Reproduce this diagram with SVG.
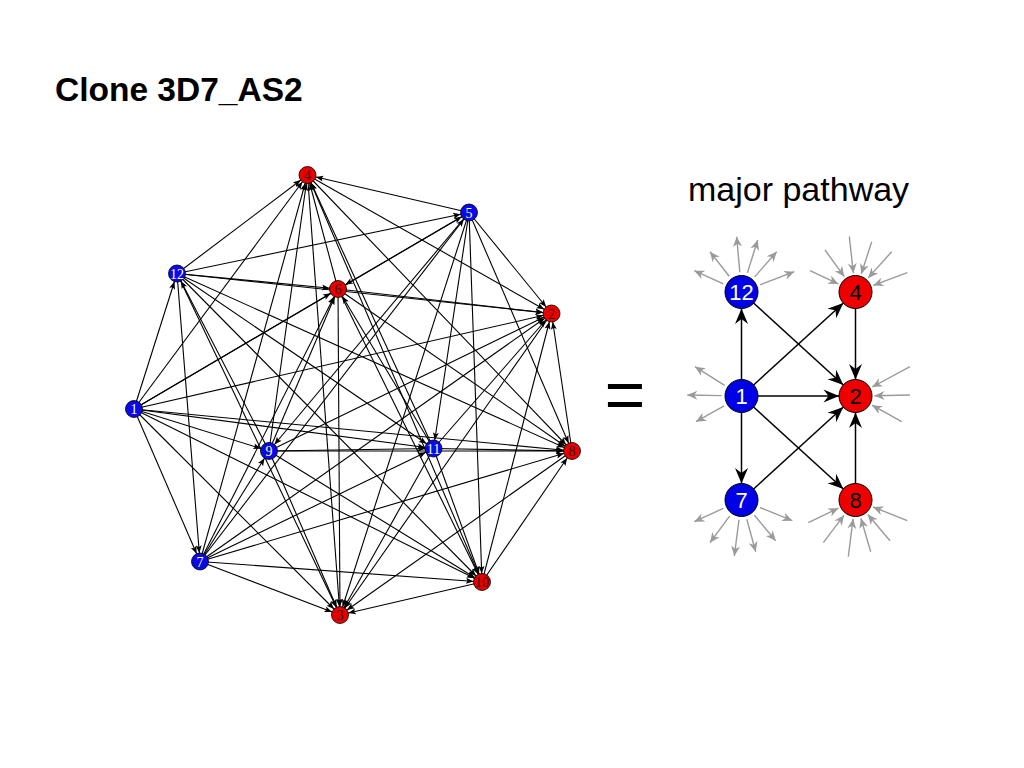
<svg xmlns="http://www.w3.org/2000/svg" width="1024" height="768" viewBox="0 0 1024 768">
<style>
.e{stroke:#000;stroke-width:1.1;fill:none;marker-end:url(#arL)}
.b{stroke:#000;stroke-width:1.5;fill:none;marker-end:url(#arR)}
.g{stroke:#9a9a9a;stroke-width:1.4;fill:none;marker-end:url(#arG)}
.nb{fill:#0a0ae6;stroke:#000;stroke-width:0.8}
.nr{fill:#e60000;stroke:#000;stroke-width:0.8}
.lw{font-family:"Liberation Serif",serif;font-size:14px;fill:#fff;text-anchor:middle}
.lk{font-family:"Liberation Serif",serif;font-size:14px;fill:#3a0000;text-anchor:middle}
.Rb{fill:#0000e6;stroke:#000;stroke-width:1}
.Rr{fill:#ee0000;stroke:#000;stroke-width:1}
.Rw{font-family:"Liberation Sans",Arial,sans-serif;font-size:22px;fill:#fff;text-anchor:middle}
.Rk{font-family:"Liberation Sans",Arial,sans-serif;font-size:22px;fill:#000;text-anchor:middle}
</style>
<defs>
<marker id="arL" markerUnits="userSpaceOnUse" markerWidth="20" markerHeight="20" refX="0" refY="0" orient="auto" overflow="visible">
<path d="M-16,-3 L-8.5,0 L-16,3 L-14.5,0 z" fill="#000"/>
</marker>
<marker id="arR" markerUnits="userSpaceOnUse" markerWidth="40" markerHeight="40" refX="0" refY="0" orient="auto" overflow="visible">
<path d="M-32,-6.5 L-16.5,0 L-32,6.5 L-27,0 z" fill="#000"/>
</marker>
<marker id="arG" markerUnits="userSpaceOnUse" markerWidth="20" markerHeight="20" refX="0" refY="0" orient="auto" overflow="visible">
<path d="M-10,-4.5 L0,0 L-10,4.5 L-7,0 z" fill="#9a9a9a"/>
</marker>
</defs>
<rect width="1024" height="768" fill="#fff"/>
<text x="55" y="101" font-family="Liberation Sans,Arial,sans-serif" font-weight="bold" font-size="33.5" fill="#000">Clone 3D7_AS2</text>
<text x="688" y="201" font-family="Liberation Sans,Arial,sans-serif" font-size="34" fill="#000">major pathway</text>
<text x="625" y="419" font-family="Liberation Sans,Arial,sans-serif" font-size="70" fill="#000" text-anchor="middle">=</text>

<g id="connectors">
<line class="e" x1="134" y1="409" x2="177" y2="273.5"/>
<line class="e" x1="134" y1="409" x2="200" y2="561.5"/>
<line class="e" x1="134" y1="409" x2="469" y2="212.5"/>
<line class="e" x1="134" y1="409" x2="269" y2="451"/>
<line class="e" x1="134" y1="409" x2="433.5" y2="448.5"/>
<line class="e" x1="134" y1="409" x2="338" y2="289"/>
<line class="e" x1="134" y1="409" x2="482" y2="582"/>
<line class="e" x1="134" y1="409" x2="307.5" y2="175"/>
<line class="e" x1="134" y1="409" x2="572" y2="451"/>
<line class="e" x1="134" y1="409" x2="551.5" y2="313.5"/>
<line class="e" x1="134" y1="409" x2="340" y2="615"/>
<line class="e" x1="177" y1="273.5" x2="200" y2="561.5"/>
<line class="e" x1="177" y1="273.5" x2="469" y2="212.5"/>
<line class="e" x1="177" y1="273.5" x2="433.5" y2="448.5"/>
<line class="e" x1="177" y1="273.5" x2="338" y2="289"/>
<line class="e" x1="177" y1="273.5" x2="482" y2="582"/>
<line class="e" x1="177" y1="273.5" x2="307.5" y2="175"/>
<line class="e" x1="177" y1="273.5" x2="572" y2="451"/>
<line class="e" x1="177" y1="273.5" x2="551.5" y2="313.5"/>
<line class="e" x1="177" y1="273.5" x2="340" y2="615"/>
<line class="e" x1="200" y1="561.5" x2="469" y2="212.5"/>
<line class="e" x1="200" y1="561.5" x2="269" y2="451"/>
<line class="e" x1="200" y1="561.5" x2="433.5" y2="448.5"/>
<line class="e" x1="200" y1="561.5" x2="338" y2="289"/>
<line class="e" x1="200" y1="561.5" x2="482" y2="582"/>
<line class="e" x1="200" y1="561.5" x2="307.5" y2="175"/>
<line class="e" x1="200" y1="561.5" x2="572" y2="451"/>
<line class="e" x1="200" y1="561.5" x2="551.5" y2="313.5"/>
<line class="e" x1="200" y1="561.5" x2="340" y2="615"/>
<line class="e" x1="469" y1="212.5" x2="269" y2="451"/>
<line class="e" x1="469" y1="212.5" x2="433.5" y2="448.5"/>
<line class="e" x1="469" y1="212.5" x2="338" y2="289"/>
<line class="e" x1="469" y1="212.5" x2="482" y2="582"/>
<line class="e" x1="469" y1="212.5" x2="307.5" y2="175"/>
<line class="e" x1="469" y1="212.5" x2="572" y2="451"/>
<line class="e" x1="469" y1="212.5" x2="551.5" y2="313.5"/>
<line class="e" x1="469" y1="212.5" x2="340" y2="615"/>
<line class="e" x1="269" y1="451" x2="177" y2="273.5"/>
<line class="e" x1="269" y1="451" x2="433.5" y2="448.5"/>
<line class="e" x1="269" y1="451" x2="338" y2="289"/>
<line class="e" x1="269" y1="451" x2="482" y2="582"/>
<line class="e" x1="269" y1="451" x2="307.5" y2="175"/>
<line class="e" x1="269" y1="451" x2="572" y2="451"/>
<line class="e" x1="269" y1="451" x2="551.5" y2="313.5"/>
<line class="e" x1="269" y1="451" x2="340" y2="615"/>
<line class="e" x1="433.5" y1="448.5" x2="338" y2="289"/>
<line class="e" x1="433.5" y1="448.5" x2="482" y2="582"/>
<line class="e" x1="433.5" y1="448.5" x2="307.5" y2="175"/>
<line class="e" x1="433.5" y1="448.5" x2="572" y2="451"/>
<line class="e" x1="433.5" y1="448.5" x2="551.5" y2="313.5"/>
<line class="e" x1="433.5" y1="448.5" x2="340" y2="615"/>
<line class="e" x1="338" y1="289" x2="482" y2="582"/>
<line class="e" x1="338" y1="289" x2="307.5" y2="175"/>
<line class="e" x1="338" y1="289" x2="572" y2="451"/>
<line class="e" x1="338" y1="289" x2="551.5" y2="313.5"/>
<line class="e" x1="338" y1="289" x2="340" y2="615"/>
<line class="e" x1="482" y1="582" x2="307.5" y2="175"/>
<line class="e" x1="482" y1="582" x2="572" y2="451"/>
<line class="e" x1="482" y1="582" x2="551.5" y2="313.5"/>
<line class="e" x1="482" y1="582" x2="340" y2="615"/>
<line class="e" x1="307.5" y1="175" x2="572" y2="451"/>
<line class="e" x1="307.5" y1="175" x2="551.5" y2="313.5"/>
<line class="e" x1="307.5" y1="175" x2="340" y2="615"/>
<line class="e" x1="572" y1="451" x2="551.5" y2="313.5"/>
<line class="e" x1="572" y1="451" x2="340" y2="615"/>
<line class="e" x1="551.5" y1="313.5" x2="340" y2="615"/>

<line class="b" x1="741.5" y1="396" x2="741.5" y2="292"/>
<line class="b" x1="741.5" y1="396" x2="855.5" y2="292"/>
<line class="b" x1="741.5" y1="396" x2="855.5" y2="396"/>
<line class="b" x1="741.5" y1="396" x2="855.5" y2="500"/>
<line class="b" x1="741.5" y1="396" x2="741.5" y2="500"/>
<line class="b" x1="741.5" y1="292" x2="855.5" y2="396"/>
<line class="b" x1="741.5" y1="500" x2="855.5" y2="396"/>
<line class="b" x1="855.5" y1="292" x2="855.5" y2="396"/>
<line class="b" x1="855.5" y1="500" x2="855.5" y2="396"/>

<line class="g" x1="723.3" y1="283.8" x2="694.3" y2="270.7"/>
<line class="g" x1="729.2" y1="276.3" x2="710" y2="251.7"/>
<line class="g" x1="739.8" y1="272.1" x2="736.7" y2="236.7"/>
<line class="g" x1="747.4" y1="272.9" x2="757.7" y2="240"/>
<line class="g" x1="754.7" y1="276.9" x2="776.7" y2="251.7"/>
<line class="g" x1="760.2" y1="284.8" x2="794.3" y2="271.7"/>

<line class="g" x1="810" y1="270.7" x2="838.3" y2="283.9"/>
<line class="g" x1="825" y1="250" x2="844.3" y2="276.6"/>
<line class="g" x1="849.3" y1="236.7" x2="853.4" y2="273.1"/>
<line class="g" x1="871.7" y1="241.7" x2="861.3" y2="273.9"/>
<line class="g" x1="891.7" y1="251.7" x2="868.2" y2="277.9"/>
<line class="g" x1="907.3" y1="272.7" x2="873.3" y2="285.4"/>

<line class="g" x1="724.6" y1="385.3" x2="695" y2="366.7"/>
<line class="g" x1="721.5" y1="395.6" x2="687.3" y2="395"/>
<line class="g" x1="724.1" y1="405.8" x2="696" y2="421.7"/>

<line class="g" x1="910" y1="366.7" x2="872.2" y2="387"/>
<line class="g" x1="910" y1="395" x2="874.5" y2="395.7"/>
<line class="g" x1="901.7" y1="421.7" x2="872.1" y2="405.2"/>

<line class="g" x1="723.3" y1="508.4" x2="694.3" y2="521.7"/>
<line class="g" x1="729.6" y1="516.1" x2="710" y2="542.7"/>
<line class="g" x1="739" y1="519.8" x2="734.3" y2="556"/>
<line class="g" x1="746.8" y1="519.3" x2="755.7" y2="551.7"/>
<line class="g" x1="754.4" y1="515.3" x2="775.7" y2="540.7"/>
<line class="g" x1="760" y1="507.5" x2="792.3" y2="520.7"/>

<line class="g" x1="808.3" y1="522.7" x2="838.4" y2="508.2"/>
<line class="g" x1="823.3" y1="542.7" x2="844.1" y2="515.2"/>
<line class="g" x1="848.3" y1="556.7" x2="853.1" y2="518.8"/>
<line class="g" x1="870.7" y1="551.7" x2="860.9" y2="518.2"/>
<line class="g" x1="890" y1="540.7" x2="867.8" y2="514.5"/>
<line class="g" x1="907.3" y1="520.7" x2="873.1" y2="507"/>
</g>

<g id="node-L1"><circle class="nb" cx="134" cy="409" r="8.5"/><text class="lw" x="134" y="414">1</text></g>
<g id="node-L2"><circle class="nr" cx="551.5" cy="313.5" r="8.5"/><text class="lk" x="551.5" y="318.5">2</text></g>
<g id="node-L3"><circle class="nr" cx="340" cy="615" r="8.5"/><text class="lk" x="340" y="620">3</text></g>
<g id="node-L4"><circle class="nr" cx="307.5" cy="175" r="8.5"/><text class="lk" x="307.5" y="180">4</text></g>
<g id="node-L5"><circle class="nb" cx="469" cy="212.5" r="8.5"/><text class="lw" x="469" y="217.5">5</text></g>
<g id="node-L6"><circle class="nr" cx="338" cy="289" r="8.5"/><text class="lk" x="338" y="294">6</text></g>
<g id="node-L7"><circle class="nb" cx="200" cy="561.5" r="8.5"/><text class="lw" x="200" y="566.5">7</text></g>
<g id="node-L8"><circle class="nr" cx="572" cy="451" r="8.5"/><text class="lk" x="572" y="456">8</text></g>
<g id="node-L9"><circle class="nb" cx="269" cy="451" r="8.5"/><text class="lw" x="269" y="456">9</text></g>
<g id="node-L10"><circle class="nr" cx="482" cy="582" r="8.5"/><text class="lk" x="482" y="587">10</text></g>
<g id="node-L11"><circle class="nb" cx="433.5" cy="448.5" r="8.5"/><text class="lw" x="433.5" y="453.5">11</text></g>
<g id="node-L12"><circle class="nb" cx="177" cy="273.5" r="8.5"/><text class="lw" x="177" y="278.5">12</text></g>

<g id="node-R12"><circle class="Rb" cx="741.5" cy="292" r="16.5"/><text class="Rw" x="741.5" y="300">12</text></g>
<g id="node-R4"><circle class="Rr" cx="855.5" cy="292" r="16.5"/><text class="Rk" x="855.5" y="300">4</text></g>
<g id="node-R1"><circle class="Rb" cx="741.5" cy="396" r="16.5"/><text class="Rw" x="741.5" y="404">1</text></g>
<g id="node-R2"><circle class="Rr" cx="855.5" cy="396" r="16.5"/><text class="Rk" x="855.5" y="404">2</text></g>
<g id="node-R7"><circle class="Rb" cx="741.5" cy="500" r="16.5"/><text class="Rw" x="741.5" y="508">7</text></g>
<g id="node-R8"><circle class="Rr" cx="855.5" cy="500" r="16.5"/><text class="Rk" x="855.5" y="508">8</text></g>
</svg>
